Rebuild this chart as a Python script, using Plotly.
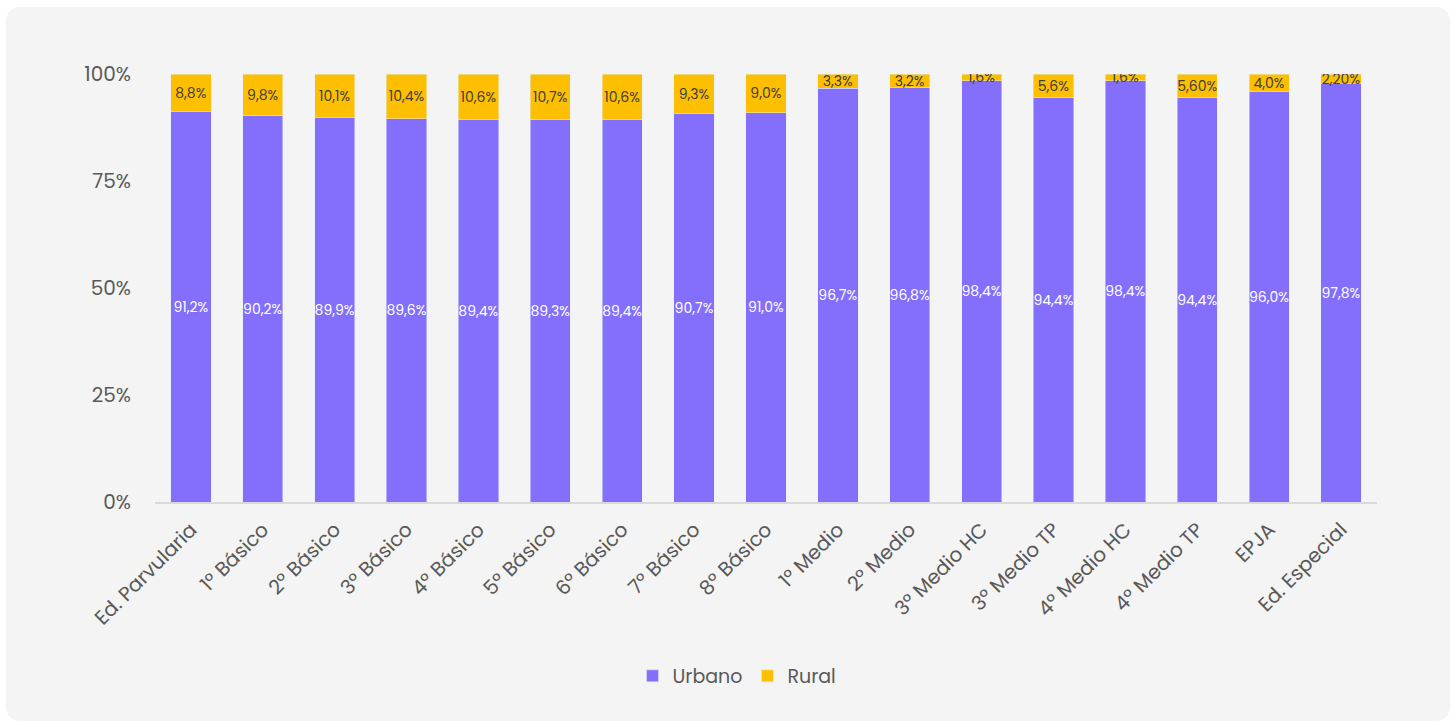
import plotly.graph_objects as go

categories = ["Ed. Parvularia", "1º Básico", "2º Básico", "3º Básico", "4º Básico",
              "5º Básico", "6º Básico", "7º Básico", "8º Básico", "1º Medio",
              "2º Medio", "3º Medio HC", "3º Medio TP", "4º Medio HC", "4º Medio TP",
              "EPJA", "Ed. Especial"]
urbano = [91.2, 90.2, 89.9, 89.6, 89.4, 89.3, 89.4, 90.7, 91.0, 96.7,
          96.8, 98.4, 94.4, 98.4, 94.4, 96.0, 97.8]
rural = [8.8, 9.8, 10.1, 10.4, 10.6, 10.7, 10.6, 9.3, 9.0, 3.3,
         3.2, 1.6, 5.6, 1.6, 5.6, 4.0, 2.2]
urbano_labels = ["91,2%", "90,2%", "89,9%", "89,6%", "89,4%", "89,3%", "89,4%", "90,7%", "91,0%",
                 "96,7%", "96,8%", "98,4%", "94,4%", "98,4%", "94,4%", "96,0%", "97,8%"]
rural_labels = ["8,8%", "9,8%", "10,1%", "10,4%", "10,6%", "10,7%", "10,6%", "9,3%", "9,0%",
                "3,3%", "3,2%", "1,6%", "5,6%", "1,6%", "5,60%", "4,0%", "2,20%"]
y_ticks = [0, 25, 50, 75, 100]
y_tick_labels = ["0%", "25%", "50%", "75%", "100%"]

W, H = 1455, 721
ML, MR, MT, MB = 155, 78, 74, 219
PW, PH = W - ML - MR, H - MT - MB
FONT = "Poppins, Open Sans, sans-serif"

def px(x):
    return (x - ML) / PW

def py(y):
    return (H - MB - y) / PH

fig = go.Figure()
fig.add_trace(go.Bar(
    name="Urbano", x=categories, y=urbano, marker_color="#836ffb",
    text=urbano_labels, textposition="inside", insidetextanchor="middle",
    textfont=dict(color="white", size=14, family=FONT), textangle=0,
    hoverinfo="x+y",
))
fig.add_trace(go.Bar(
    name="Rural", x=categories, y=rural, marker_color="#fdbf00",
    text=rural_labels, textposition="inside", insidetextanchor="middle",
    textfont=dict(color="#404040", size=14, family=FONT), textangle=0,
    hoverinfo="x+y",
))

# rounded card background
x0, x1, y0, y1, r = px(6), px(1450), py(7), py(721), 16
rx, ry = r / PW, r / PH
path = (f"M {x0+rx},{y0} L {x1-rx},{y0} Q {x1},{y0} {x1},{y0-ry} "
        f"L {x1},{y1+ry} Q {x1},{y1} {x1-rx},{y1} L {x0+rx},{y1} Q {x0},{y1} {x0},{y1+ry} "
        f"L {x0},{y0-ry} Q {x0},{y0} {x0+rx},{y0} Z")
fig.add_shape(type="path", path=path, xref="paper", yref="paper",
              fillcolor="#f4f4f4", line_width=0, layer="below")

fig.update_layout(
    width=W, height=H,
    margin=dict(l=ML, r=MR, t=MT, b=MB, pad=0),
    paper_bgcolor="white", plot_bgcolor="rgba(0,0,0,0)",
    barmode="stack", bargap=0.44,
    uniformtext=dict(minsize=14, mode="show"),
    font=dict(family=FONT, color="#595959"),
    showlegend=True,
    legend=dict(orientation="h", x=px(737), xanchor="center", y=py(676), yanchor="middle",
                font=dict(size=19, color="#595959", family=FONT), bgcolor="rgba(0,0,0,0)",
                traceorder="normal", itemwidth=30),
    xaxis=dict(tickangle=-45, tickfont=dict(size=20, color="#595959"),
               showline=True, linecolor="#d9d9d9", linewidth=2, ticks="outside",
               ticklen=6, tickcolor="rgba(0,0,0,0)",
               showgrid=False, fixedrange=True),
    yaxis=dict(range=[0, 100], tickvals=y_ticks, ticktext=y_tick_labels,
               tickfont=dict(size=20, color="#595959"), showgrid=False,
               zeroline=False, showline=False, ticks="outside", ticklen=19,
               tickcolor="rgba(0,0,0,0)", fixedrange=True),
)

fig.write_html("out.html")
